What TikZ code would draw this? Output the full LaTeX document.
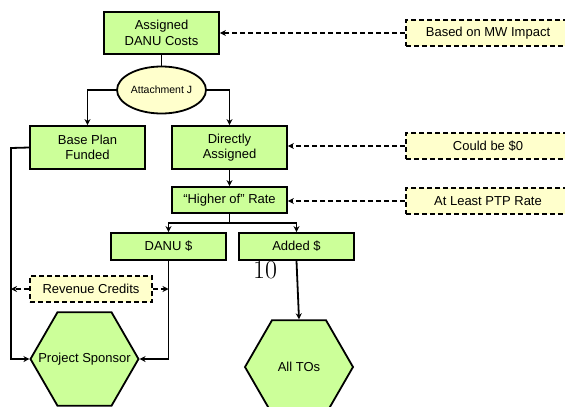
\documentclass[tikz,border=0pt]{standalone}
\usepackage{fontspec}
\usepackage{tikz}
\usetikzlibrary{positioning}
\usetikzlibrary{shapes.geometric, arrows.meta}
\newfontfamily\arialfont{Liberation Sans}
\definecolor{boxgreen}{HTML}{CCFF99}
\definecolor{noteyellow}{HTML}{FFFFCC}
\tikzstyle{greenbox} = [rectangle, draw=black, line width=1.8pt, fill=boxgreen, inner sep=0pt, minimum width=115pt, align=center, font=\arialfont\fontsize{13}{15.5}\selectfont]
\tikzstyle{notebox} = [rectangle, draw=black, line width=1.8pt, dash pattern=on 5pt off 3pt, fill=noteyellow, inner sep=0pt, minimum height=26pt, font=\arialfont\fontsize{13}{15.5}\selectfont]
\tikzstyle{hexa} = [regular polygon, regular polygon sides=6, minimum size=108pt, inner sep=0pt, draw=black, line width=1.8pt, fill=boxgreen, label={[font=\arialfont\fontsize{13}{15.5}\selectfont]center:#1}]
\tikzstyle{arrow} = [line width=1.8pt,->,>={Stealth[length=6pt,width=6pt]}]
\tikzstyle{dasharrow} = [arrow, dash pattern=on 5pt off 3pt]

\begin{document}
\begin{tikzpicture}[x=1pt,y=-1pt]
\useasboundingbox (0,0) rectangle (565,407);
\clip (0,0) rectangle (565,407);
\node[greenbox, minimum height=42pt] (assigned) at (161.5,33) {Assigned\\DANU Costs};
\node[ellipse, draw=black, line width=1.8pt, fill=noteyellow, minimum width=89pt, minimum height=47pt, inner sep=0pt, font=\arialfont\fontsize{10.5}{12}\selectfont] (attj) at (161.5,90) {Attachment J};
\node[greenbox, minimum height=43pt] (base) at (87.5,147.5) {Base Plan\\Funded};
\node[greenbox, minimum height=43pt] (direct) at (229.5,147.5) {Directly\\Assigned};
\node[greenbox, minimum height=26pt] (higher) at (229.5,200) {“Higher of” Rate};
\node[greenbox, minimum height=27pt] (danu) at (168.5,246.5) {DANU \$};
\node[greenbox, minimum height=27pt] (added) at (296.5,246.5) {Added \$};
\node[notebox, minimum width=122pt] (revenue) at (91,289) {Revenue Credits};
\node[hexa=Project Sponsor] (sponsor) at (84.5,359) {};
\node[hexa=All TOs] (alltos) at (299,367) {};
\node[notebox, minimum width=164pt] (mwimpact) at (488,33) {Based on MW Impact};
\node[notebox, minimum width=164pt] (zero) at (488,146) {Could be \$0};
\node[notebox, minimum width=164pt] (ptprate) at (488,201) {At Least PTP Rate};
\node[font=\fontsize{26}{28}\selectfont] (pagenum) at (265,270) {10};
\coordinate (split) at (229.5,223);
\coordinate (lefttop) at (11,148);
\coordinate (leftbot) at (11,359);
% main flow
\draw[line width=1.8pt] (assigned)--(attj);
\draw[arrow] (attj.west) -| (base.north);
\draw[arrow] (attj.east) -| (direct.north);
\draw[arrow] (direct)--(higher);
\draw[line width=1.8pt] (higher)--(split);
\draw[arrow] (split) -| (danu.north);
\draw[arrow] (split) -| (added.north);
\draw[arrow] (base.west)--(lefttop)--(leftbot)--(sponsor.west);
\draw[arrow] (danu.south) |- (sponsor.east);
\draw[arrow] (added.south)--(alltos.north);
% notes
\draw[dasharrow] (mwimpact.west)--(assigned.east);
\draw[dasharrow] (zero.west)--(zero.west -| direct.east);
\draw[dasharrow] (ptprate.west)--(ptprate.west -| higher.east);
\draw[dasharrow] (revenue.west)--(revenue.west -| lefttop);
\draw[dasharrow] (revenue.east)--(revenue.east -| danu.south);
\end{tikzpicture}
\end{document}
